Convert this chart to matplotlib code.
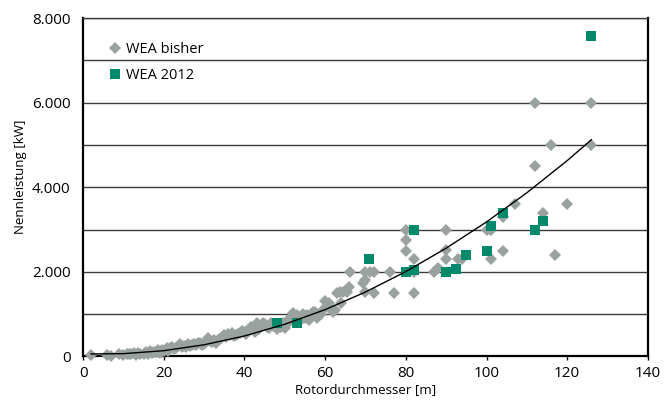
import matplotlib.pyplot as plt
from matplotlib.ticker import FuncFormatter, MultipleLocator

plt.rcParams['font.family'] = ['Open Sans', 'DejaVu Sans']

# WEA bisher: Rotordurchmesser [m], Nennleistung [kW]
bisher_x = [2, 6, 7, 10, 11, 12, 12.5, 13, 14, 15, 16, 17, 18, 19, 20, 20.7, 21, 22, 22.5, 23,
            24, 24.5, 25, 26, 26.5, 27, 28, 29, 30, 31, 31.5, 32, 33, 34, 35, 36, 37, 37.5, 38, 39,
            40, 41, 42, 42.5, 43, 44, 45, 46, 47, 48, 49, 50, 50.5, 51, 52, 53, 53.5, 54, 55, 56,
            57, 58, 59, 60, 61, 62, 62.5, 62.9, 63.7, 64, 64.5, 65.3, 66, 66.2, 69.4, 70, 70, 70,
            71, 72, 72, 76, 77, 80, 80, 80, 82, 82, 82, 87, 88, 90, 90, 90, 93, 94,
            100, 101, 101, 104, 104, 107, 112, 112, 114, 116, 117, 120, 126, 126,
            # dense band of small turbines
            9, 11.5, 13.5, 15.5, 16.5, 17.5, 18.5, 19.5, 21.5, 23.5, 25.5, 27.5, 28.5, 29.5, 30.5,
            32.5, 33.5, 34.5, 35.5, 36.5, 38.5, 39.5, 40.5, 41.5, 43.5, 44.5, 45.5, 46.5, 47.5,
            48.5, 49.5, 51.5, 52.5, 54.5, 55.5, 56.5, 57.5, 58.5, 59.5, 60.5, 61.5]
bisher_y = [30, 30, 20, 40, 60, 50, 80, 40, 60, 50, 60, 80, 110, 90, 120, 190, 140, 230, 170, 200,
            290, 230, 250, 300, 240, 270, 260, 310, 300, 430, 360, 340, 310, 420, 510, 540, 550, 480, 500, 560,
            590, 620, 670, 580, 780, 740, 760, 680, 720, 660, 700, 670, 760, 880, 1020, 980, 820, 950, 900, 860,
            1060, 900, 1000, 1300, 1260, 1060, 1100, 1500, 1530, 1260, 1530, 1530, 1650, 2000, 1730, 2000, 1810, 1530,
            2000, 2000, 1500, 2000, 1500, 3000, 2760, 2500, 2300, 1500, 2000, 2000, 2100, 3000, 2520, 2300, 2300, 2300,
            3000, 3000, 2300, 3300, 2500, 3610, 4500, 6000, 3400, 5000, 2400, 3610, 6000, 5000,
            50, 70, 90, 100, 130, 100, 150, 160, 200, 250, 220, 300, 330, 280, 350,
            380, 400, 470, 450, 500, 520, 600, 520, 700, 640, 800, 700, 800, 760,
            700, 800, 900, 850, 1000, 980, 950, 1050, 1000, 1100, 1200, 1150]

# WEA 2012
neu_x = [48, 53, 70.9, 80, 82, 82, 90, 92.4, 94.9, 100, 101, 104, 112, 114, 126]
neu_y = [790, 780, 2300, 2000, 3000, 2050, 2000, 2060, 2400, 2500, 3090, 3400, 3000, 3210, 7580]

# trendline
trend_x = [2, 10, 20, 30, 40, 50, 60, 70, 80, 90, 100, 110, 120, 126]
trend_y = [60, 67, 137, 277, 485, 762, 1108, 1524, 2007, 2560, 3180, 3870, 4630, 5124]

grey = '#99a29f'
green = '#00896b'

fig = plt.figure(figsize=(6.7, 4.01), dpi=100)
ax = fig.add_axes([0.124, 0.111, 0.843, 0.844])

ax.plot(bisher_x, bisher_y, ls='none', marker='D', ms=5.8, color=grey, mew=0,
        label='WEA bisher', clip_on=False, zorder=3)
ax.plot(neu_x, neu_y, ls='none', marker='s', ms=7.2, color=green, mew=0,
        label='WEA 2012', clip_on=False, zorder=4)
ax.plot(trend_x, trend_y, color='black', lw=1, zorder=5)

ax.set_xlim(0, 140)
ax.set_ylim(0, 8000)
ax.xaxis.set_major_locator(MultipleLocator(20))
ax.yaxis.set_major_locator(MultipleLocator(2000))
ax.yaxis.set_minor_locator(MultipleLocator(1000))
ax.yaxis.set_major_formatter(FuncFormatter(lambda v, p: f"{v:,.0f}".replace(",", ".")))
ax.grid(axis='y', which='both', color='#3a3a3a', lw=1, zorder=1)
ax.set_axisbelow(True)

for s in ['left', 'bottom', 'right']:
    ax.spines[s].set_linewidth(1.6)
    ax.spines[s].set_color('black')
ax.spines['top'].set_linewidth(1)
ax.spines['top'].set_color('#3a3a3a')

ax.tick_params(axis='both', labelsize=11, color='black', length=3, width=1, pad=4)
ax.tick_params(axis='y', which='minor', length=0)
ax.tick_params(axis='y', length=0, pad=9)

ax.set_xlabel('Rotordurchmesser [m]', fontsize=9.5, labelpad=1)
ax.set_ylabel('Nennleistung [kW]', fontsize=9.5, labelpad=5)
ax.yaxis.set_label_coords(-0.1, 0.53)

ax.legend(loc='upper left', bbox_to_anchor=(0.03, 0.945), frameon=False, fontsize=10.5,
          handletextpad=0.15, handlelength=1.2, labelspacing=0.75, borderaxespad=0)

fig.savefig('out.png', dpi=100)
